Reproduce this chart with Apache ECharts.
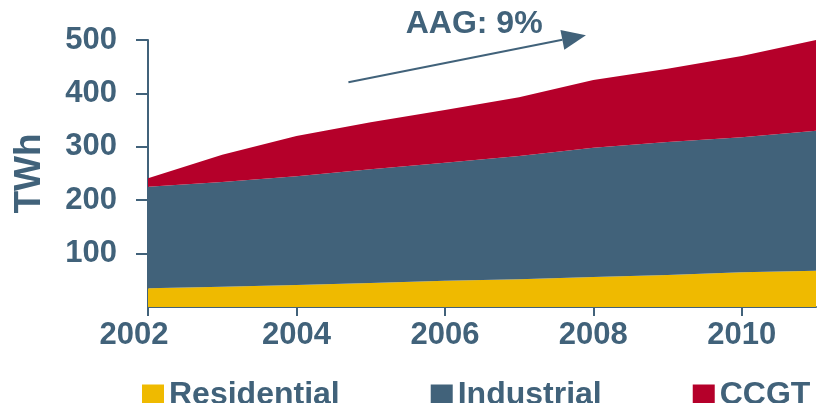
<!DOCTYPE html>
<html>
<head>
<meta charset="utf-8">
<script src="https://cdn.jsdelivr.net/npm/echarts@6/dist/echarts.min.js"></script>
<style>
  html, body { margin: 0; padding: 0; background: #ffffff; }
  #chart { width: 821px; height: 403px; }
</style>
</head>
<body>
<div id="chart"></div>
<script>
// Electricity demand by segment, TWh
const years = ['2002', '2003', '2004', '2005', '2006', '2007', '2008', '2009', '2010', '2011'];
const residential = [35, 38, 41, 45, 49, 52, 56, 60, 65, 68];
const industrial = [190, 196, 204, 213, 221, 231, 242, 249, 253, 262];
const ccgt = [16, 51, 75, 88, 99, 110, 127, 137, 152, 170];
const yTicks = [100, 200, 300, 400, 500];
const xTicks = ['2002', '2004', '2006', '2008', '2010'];

// growth arrow, in data units (fractional category index, TWh)
const arrowFrom = [2.7, 421];
const arrowTo = [5.9, 509];
const arrowLabel = 'AAG: 9%';

const ink = '#41627a';
const font = 'Liberation Sans, Arial, sans-serif';
const colors = { Residential: '#efba00', Industrial: '#41627a', CCGT: '#b5002a' };

const chart = echarts.init(document.getElementById('chart'), null, { renderer: 'canvas' });

function areaSeries(name, values) {
  return {
    name: name,
    type: 'line',
    stack: 'total',
    data: values,
    symbol: 'none',
    lineStyle: { width: 0 },
    areaStyle: { color: colors[name], opacity: 1 },
    itemStyle: { color: colors[name] },
    silent: true
  };
}

chart.setOption({
  animation: false,
  grid: { left: 148, right: 5, top: 40, bottom: 96 },
  legend: {
    left: 137,
    top: 374,
    icon: 'rect',
    itemWidth: 22,
    itemHeight: 21,
    itemGap: 91,
    selectedMode: false,
    textStyle: { color: ink, fontFamily: font, fontWeight: 'bold', fontSize: 32, padding: [0, 0, 0, 0] },
    data: ['Residential', 'Industrial', 'CCGT']
  },
  xAxis: {
    type: 'category',
    data: years,
    boundaryGap: false,
    offset: 3,
    axisLine: { show: true, lineStyle: { color: ink, width: 2 } },
    axisTick: {
      show: true, length: 9, lineStyle: { color: ink, width: 2 },
      interval: (i, v) => xTicks.indexOf(v) >= 0
    },
    axisLabel: {
      color: ink, fontFamily: font, fontWeight: 'bold', fontSize: 31, margin: 10,
      interval: (i, v) => xTicks.indexOf(v) >= 0,
      formatter: v => (v === xTicks[0] ? '{first|' + v + '}' : v),
      rich: { first: { color: ink, fontFamily: font, fontWeight: 'bold', fontSize: 31, padding: [0, 28, 0, 0] } }
    },
    splitLine: { show: false }
  },
  yAxis: {
    type: 'value',
    min: 0,
    max: 500,
    interval: 100,
    axisLine: { show: true, lineStyle: { color: ink, width: 2 } },
    axisTick: { show: true, length: 12, lineStyle: { color: ink, width: 2 }, customValues: yTicks },
    axisLabel: {
      color: ink, fontFamily: font, fontWeight: 'bold', fontSize: 31, margin: 31,
      customValues: yTicks,
      formatter: v => (v === 0 ? '' : String(v))
    },
    splitLine: { show: false },
    name: 'TWh',
    nameLocation: 'middle',
    nameRotate: 90,
    nameGap: 100,
    nameTextStyle: { color: ink, fontFamily: font, fontWeight: 'bold', fontSize: 37 }
  },
  series: [
    areaSeries('Residential', residential),
    areaSeries('Industrial', industrial),
    areaSeries('CCGT', ccgt)
  ]
});

// category axes snap to whole indices, so interpolate between neighbours
function toPixel(pt) {
  const i0 = Math.floor(pt[0]);
  const f = pt[0] - i0;
  const a = chart.convertToPixel({ gridIndex: 0 }, [i0, pt[1]]);
  const b = chart.convertToPixel({ gridIndex: 0 }, [i0 + 1, pt[1]]);
  return [a[0] + f * (b[0] - a[0]), a[1]];
}

// growth arrow with its label
const p0 = toPixel(arrowFrom);
const p1 = toPixel(arrowTo);
const ang = Math.atan2(p1[1] - p0[1], p1[0] - p0[0]);
const headLen = 24, headHalf = 10;
const base = [p1[0] - headLen * Math.cos(ang), p1[1] - headLen * Math.sin(ang)];
const nx = -Math.sin(ang), ny = Math.cos(ang);
chart.setOption({
  graphic: [
    {
      type: 'line',
      shape: { x1: p0[0], y1: p0[1], x2: base[0], y2: base[1] },
      style: { stroke: ink, lineWidth: 2 },
      silent: true
    },
    {
      type: 'polygon',
      shape: { points: [
        [p1[0], p1[1]],
        [base[0] + nx * headHalf, base[1] + ny * headHalf],
        [base[0] - nx * headHalf, base[1] - ny * headHalf]
      ] },
      style: { fill: ink },
      silent: true
    },
    {
      type: 'text',
      x: (p0[0] + p1[0]) / 2 + 7,
      y: 24,
      style: {
        text: arrowLabel, fill: ink, font: 'bold 32px ' + font,
        textAlign: 'center', textVerticalAlign: 'middle'
      },
      silent: true
    }
  ]
});
</script>
</body>
</html>
